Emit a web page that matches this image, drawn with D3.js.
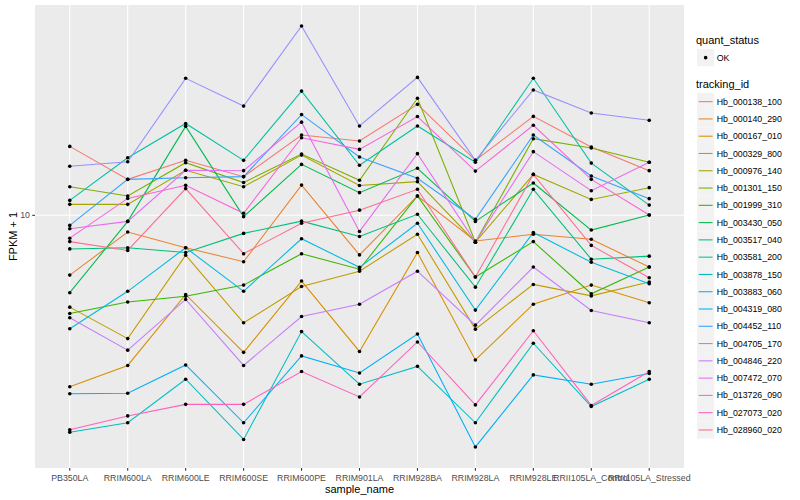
<!DOCTYPE html>
<html>
<head>
<meta charset="utf-8">
<script src="https://cdnjs.cloudflare.com/ajax/libs/d3/7.8.5/d3.min.js"></script>
<style>
  body { margin: 0; background: #fff; }
  text { font-family: "Liberation Sans", Arial, Helvetica, sans-serif; }
</style>
</head>
<body>
<div id="chart"></div>
<script>
// sample names on the x axis
var samples = ["PB350LA", "RRIM600LA", "RRIM600LE", "RRIM600SE", "RRIM600PE", "RRIM901LA",
  "RRIM928BA", "RRIM928LA", "RRIM928LE", "RRII105LA_Control", "RRII105LA_Stressed"];

var trackingIds = ["Hb_000138_100", "Hb_000140_290", "Hb_000167_010", "Hb_000329_800", "Hb_000976_140",
  "Hb_001301_150", "Hb_001999_310", "Hb_003430_050", "Hb_003517_040", "Hb_003581_200",
  "Hb_003878_150", "Hb_003883_060", "Hb_004319_080", "Hb_004452_110", "Hb_004705_170",
  "Hb_004846_220", "Hb_007472_070", "Hb_013726_090", "Hb_027073_020", "Hb_028960_020"];

// FPKM + 1, one value per sample
var hb_000138_100 = [13.03, 11.48, 12.35, 11.60, 13.61, 13.30, 15.31, 12.35, 14.62, 13.00, 11.87];
var hb_000140_290 = [7.95, 9.38, 8.83, 8.37, 11.23, 8.59, 10.77, 9.06, 9.30, 9.12, 8.20];
var hb_000167_010 = [5.18, 5.62, 7.38, 5.91, 7.77, 5.93, 8.67, 5.74, 7.11, 7.65, 7.15];
var hb_000329_800 = [7.03, 6.23, 8.58, 6.62, 7.61, 8.07, 9.30, 6.46, 7.67, 7.34, 7.74];
var hb_000976_140 = [10.43, 10.43, 11.89, 11.16, 12.60, 11.21, 11.38, 9.02, 11.70, 10.63, 11.12];
var hb_001301_150 = [11.16, 10.77, 12.24, 11.34, 12.65, 11.44, 15.67, 9.02, 13.42, 12.95, 12.26];
var hb_001999_310 = [6.86, 7.17, 7.33, 7.65, 8.63, 8.13, 10.77, 7.89, 9.04, 7.40, 8.20];
var hb_003430_050 = [7.43, 9.77, 14.07, 9.95, 12.16, 10.91, 11.98, 9.77, 11.32, 9.45, 10.01];
var hb_003517_040 = [8.79, 8.83, 8.67, 9.33, 9.78, 9.22, 10.04, 7.59, 11.05, 8.45, 8.55];
var hb_003581_200 = [10.59, 12.47, 14.23, 12.35, 16.11, 12.12, 14.09, 12.26, 16.92, 12.22, 10.40];
var hb_003878_150 = [4.35, 4.51, 5.33, 4.23, 6.40, 5.23, 5.60, 4.51, 6.12, 4.80, 5.33];
var hb_003883_060 = [6.47, 7.47, 8.83, 7.47, 9.14, 8.19, 9.70, 6.95, 9.36, 8.35, 7.69];
var hb_004319_080 = [5.04, 5.05, 5.63, 4.51, 5.83, 5.46, 6.34, 4.11, 5.42, 5.23, 5.45];
var hb_004452_110 = [9.62, 11.48, 11.55, 11.60, 14.72, 12.51, 11.53, 9.85, 13.61, 11.63, 10.66];
var hb_004705_170 = [12.07, 12.28, 16.92, 15.21, 20.68, 14.09, 16.98, 12.35, 16.18, 14.81, 14.40];
var hb_004846_220 = [6.75, 5.96, 7.24, 5.62, 6.78, 7.11, 8.07, 6.56, 8.20, 6.94, 6.62];
var hb_007472_070 = [9.50, 9.77, 11.89, 11.87, 14.30, 9.40, 12.67, 9.02, 12.77, 10.99, 12.26];
var hb_013726_090 = [9.16, 10.67, 11.22, 10.08, 13.47, 12.88, 14.61, 11.85, 14.13, 11.48, 10.01];
var hb_027073_020 = [4.39, 4.63, 4.84, 4.84, 5.49, 4.98, 6.15, 4.83, 6.42, 4.82, 5.49];
var hb_028960_020 = [9.04, 8.74, 11.08, 8.63, 9.70, 10.20, 11.05, 7.89, 11.70, 8.91, 7.87];

var seriesValues = [hb_000138_100, hb_000140_290, hb_000167_010, hb_000329_800, hb_000976_140,
  hb_001301_150, hb_001999_310, hb_003430_050, hb_003517_040, hb_003581_200,
  hb_003878_150, hb_003883_060, hb_004319_080, hb_004452_110, hb_004705_170,
  hb_004846_220, hb_007472_070, hb_013726_090, hb_027073_020, hb_028960_020];

var statusLevels = ["OK"];

// ggplot default hue palette for 20 levels
var colors = ["#F8766D", "#EA8331", "#D89000", "#C09B00", "#A3A500", "#7CAE00", "#39B600", "#00BB4E",
  "#00BF7D", "#00C1A3", "#00BFC4", "#00BAE0", "#00B0F6", "#35A2FF", "#9590FF", "#C77CFF",
  "#E76BF3", "#FA62DB", "#FF62BC", "#FF6C91"];

var series = trackingIds.map(function(id, i) {
  return {
    id: id,
    color: colors[i],
    values: seriesValues[i].map(function(v, j) { return { sample: samples[j], value: v }; })
  };
});

var width = 800, height = 500;
var panel = { left: 35, right: 684, top: 5, bottom: 468 };

var svg = d3.select("#chart").append("svg")
    .attr("width", width)
    .attr("height", height);

svg.append("rect").attr("width", width).attr("height", height).attr("fill", "#fff");

var x = d3.scalePoint()
    .domain(samples)
    .range([panel.left, panel.right])
    .padding(0.6);

// log scale, 5% expansion like ggplot
var all = d3.merge(seriesValues);
var lo = Math.log10(d3.min(all)), hi = Math.log10(d3.max(all)), pad = (hi - lo) * 0.05;
var y = d3.scaleLog()
    .domain([Math.pow(10, lo - pad), Math.pow(10, hi + pad)])
    .range([panel.bottom, panel.top]);

svg.append("rect")
    .attr("x", panel.left).attr("y", panel.top)
    .attr("width", panel.right - panel.left)
    .attr("height", panel.bottom - panel.top)
    .attr("fill", "#EBEBEB");

var yTicks = [10];

svg.append("g").selectAll("line")
    .data(yTicks)
  .enter().append("line")
    .attr("x1", panel.left).attr("x2", panel.right)
    .attr("y1", function(d) { return y(d); })
    .attr("y2", function(d) { return y(d); })
    .attr("stroke", "#fff").attr("stroke-width", 1.07);

svg.append("g").selectAll("line")
    .data(samples)
  .enter().append("line")
    .attr("x1", function(d) { return x(d); })
    .attr("x2", function(d) { return x(d); })
    .attr("y1", panel.top).attr("y2", panel.bottom)
    .attr("stroke", "#fff").attr("stroke-width", 1.07);

var line = d3.line()
    .x(function(d) { return x(d.sample); })
    .y(function(d) { return y(d.value); });

svg.append("g").selectAll("path")
    .data(series)
  .enter().append("path")
    .attr("d", function(d) { return line(d.values); })
    .attr("fill", "none")
    .attr("stroke", function(d) { return d.color; })
    .attr("stroke-width", 1.07);

svg.append("g").selectAll("circle")
    .data(d3.merge(series.map(function(s) { return s.values; })))
  .enter().append("circle")
    .attr("cx", function(d) { return x(d.sample); })
    .attr("cy", function(d) { return y(d.value); })
    .attr("r", 1.8)
    .attr("fill", "#000");

// axes
var xAxis = svg.append("g");
xAxis.selectAll("line")
    .data(samples)
  .enter().append("line")
    .attr("x1", function(d) { return x(d); })
    .attr("x2", function(d) { return x(d); })
    .attr("y1", panel.bottom).attr("y2", panel.bottom + 2.75)
    .attr("stroke", "#333").attr("stroke-width", 1.07);
xAxis.selectAll("text")
    .data(samples)
  .enter().append("text")
    .attr("x", function(d) { return x(d); })
    .attr("y", panel.bottom + 10)
    .attr("dy", "0.35em")
    .attr("text-anchor", "middle")
    .attr("font-size", 8.8)
    .attr("fill", "#4D4D4D")
    .text(function(d) { return d; });

var yAxis = svg.append("g");
yAxis.selectAll("line")
    .data(yTicks)
  .enter().append("line")
    .attr("x1", panel.left - 2.75).attr("x2", panel.left)
    .attr("y1", function(d) { return y(d); })
    .attr("y2", function(d) { return y(d); })
    .attr("stroke", "#333").attr("stroke-width", 1.07);
yAxis.selectAll("text")
    .data(yTicks)
  .enter().append("text")
    .attr("x", panel.left - 5)
    .attr("y", function(d) { return y(d); })
    .attr("dy", "0.35em")
    .attr("text-anchor", "end")
    .attr("font-size", 8.8)
    .attr("fill", "#4D4D4D")
    .text(function(d) { return d; });

svg.append("text")
    .attr("x", (panel.left + panel.right) / 2)
    .attr("y", 489)
    .attr("dy", "0.35em")
    .attr("text-anchor", "middle")
    .attr("font-size", 11)
    .text("sample_name");

svg.append("text")
    .attr("transform", "translate(13," + ((panel.top + panel.bottom) / 2) + ") rotate(-90)")
    .attr("dy", "0.35em")
    .attr("text-anchor", "middle")
    .attr("font-size", 11)
    .text("FPKM + 1");

// legends
var lx = 697, key = 17.28;
var legend = svg.append("g");

legend.append("text")
    .attr("x", lx - 1).attr("y", 40.5).attr("dy", "0.35em")
    .attr("font-size", 11).text("quant_status");

var statusKeys = legend.selectAll("g.status")
    .data(statusLevels)
  .enter().append("g")
    .attr("class", "status")
    .attr("transform", function(d, i) { return "translate(" + lx + "," + (49 + i * key) + ")"; });
statusKeys.append("rect").attr("width", key).attr("height", key).attr("fill", "#F2F2F2");
statusKeys.append("circle").attr("cx", key / 2).attr("cy", key / 2).attr("r", 1.8).attr("fill", "#000");
statusKeys.append("text")
    .attr("x", key + 2.5).attr("y", key / 2).attr("dy", "0.35em")
    .attr("font-size", 8.8).text(function(d) { return d; });

legend.append("text")
    .attr("x", lx - 1).attr("y", 84).attr("dy", "0.35em")
    .attr("font-size", 11).text("tracking_id");

var items = legend.selectAll("g.item")
    .data(series)
  .enter().append("g")
    .attr("class", "item")
    .attr("transform", function(d, i) { return "translate(" + lx + "," + (93 + i * key) + ")"; });
items.append("rect").attr("width", key).attr("height", key).attr("fill", "#F2F2F2");
items.append("line")
    .attr("x1", 1.7).attr("x2", key - 1.7)
    .attr("y1", key / 2).attr("y2", key / 2)
    .attr("stroke", function(d) { return d.color; })
    .attr("stroke-width", 1.07);
items.append("text")
    .attr("x", key + 2.5).attr("y", key / 2).attr("dy", "0.35em")
    .attr("font-size", 8.8).text(function(d) { return d.id; });
</script>
</body>
</html>
